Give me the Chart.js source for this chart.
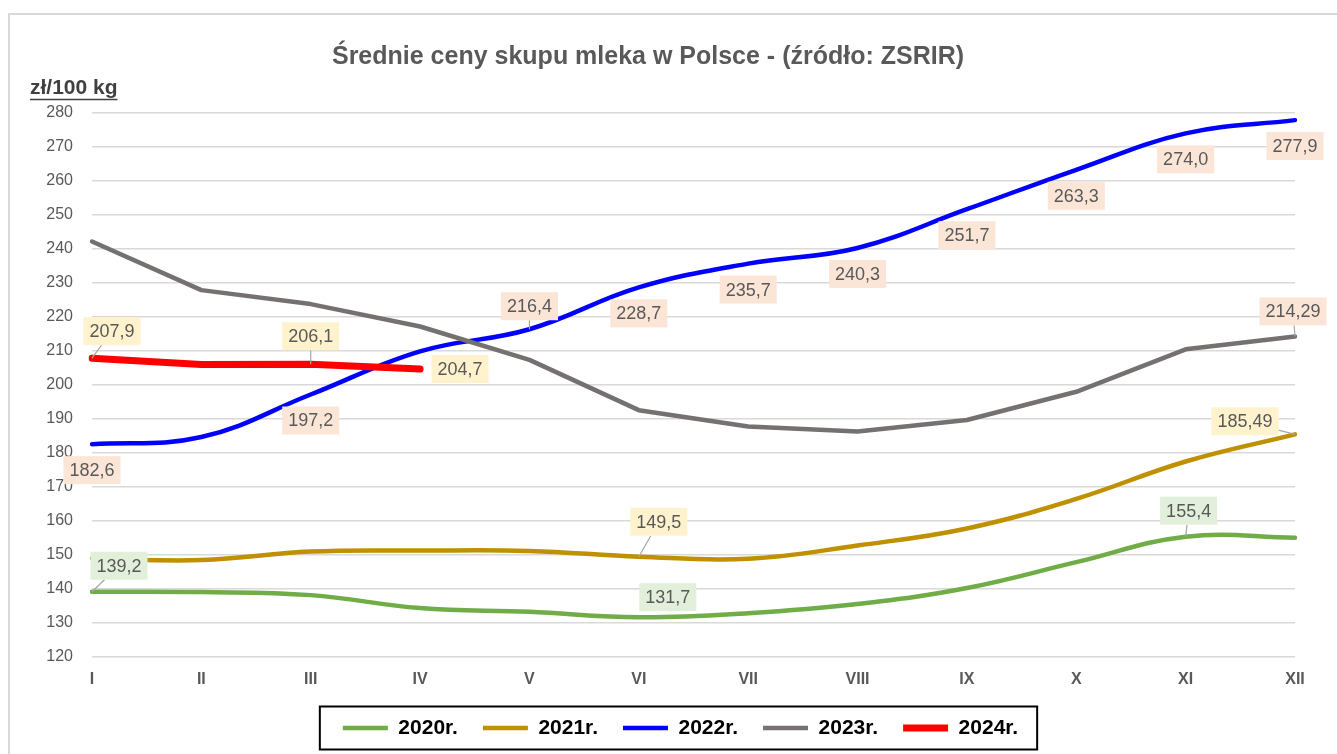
<!DOCTYPE html>
<html>
<head>
<meta charset="utf-8">
<script src="https://cdn.jsdelivr.net/npm/chart.js@4.4.1/dist/chart.umd.min.js"></script>
<style>
  body { margin: 0; background: #fff; }
  canvas { display: block; }
</style>
</head>
<body>
<canvas id="myChart" width="1337" height="754"></canvas>
<script>
// months (x axis)
const months = ["I", "II", "III", "IV", "V", "VI", "VII", "VIII", "IX", "X", "XI", "XII"];

// prices zl/100 kg
const y2020 = [139.2, 139.1, 138.2, 134.4, 133.3, 131.7, 132.9, 135.6, 140.3, 147.9, 155.4, 155.1];
const y2021 = [149.0, 148.5, 151.0, 151.3, 151.2, 149.5, 148.9, 152.8, 157.8, 166.5, 177.5, 185.49];
const y2022 = [182.6, 184.7, 197.2, 209.9, 216.4, 228.7, 235.7, 240.3, 251.7, 263.3, 274.0, 277.9];
const y2023 = [242.2, 227.9, 223.8, 217.2, 207.4, 192.6, 187.8, 186.3, 189.7, 198.0, 210.5, 214.29];
const y2024 = [207.9, 206.0, 206.1, 204.7];

const yTicks = [120, 130, 140, 150, 160, 170, 180, 190, 200, 210, 220, 230, 240, 250, 260, 270, 280];

// which points get a value box, and where the box sits relative to the point
const spots = [
  [{ i: 0, dx: 27, dy: -26, dec: 1, lead: true }, { i: 5, dx: 29, dy: -20, dec: 1 }, { i: 10, dx: 3, dy: -26, dec: 1, lead: true }],
  [{ i: 5, dx: 20, dy: -35, dec: 1, lead: true }, { i: 11, dx: -50, dy: -13, dec: 2, lead: true }],
  [0, 2, 5, 6, 7, 8, 9, 10, 11].map((i) => ({ i: i, dx: 0, dy: 26, dec: 1 }))
    .concat([{ i: 4, dx: 0, dy: -23, dec: 1, lead: true }]),
  [{ i: 11, dx: -2, dy: -25, dec: 2, lead: true }],
  [{ i: 0, dx: 20, dy: -27, dec: 1, lead: true }, { i: 2, dx: 0, dy: -28, dec: 1, lead: true }, { i: 3, dx: 40, dy: 0, dec: 1 }],
];
const boxColors = ["#E2EFDA", "#FFF2CC", "#FBE5D6", "#FBE5D6", "#FFF2CC"];

const FONT = '"Liberation Sans", Arial, sans-serif';
const PLOT_BOTTOM = 657;
const LEGEND_TOP = 692.5;

const valueBoxes = {
  id: "valueBoxes",
  afterDatasetsDraw(chart) {
    const ctx = chart.ctx;
    ctx.save();
    ctx.font = "18px " + FONT;
    ctx.textAlign = "center";
    ctx.textBaseline = "middle";
    chart.data.datasets.forEach((ds, di) => {
      const meta = chart.getDatasetMeta(di);
      spots[di].forEach((s) => {
        const pt = meta.data[s.i];
        const txt = ds.data[s.i].toFixed(s.dec).replace(".", ",");
        const w = ctx.measureText(txt).width + 12;
        const h = 28;
        const cx = pt.x + s.dx;
        const cy = pt.y + s.dy;
        if (s.lead) {
          const ddx = pt.x - cx, ddy = pt.y - cy;
          const t = Math.min(ddx ? (w / 2) / Math.abs(ddx) : 99, ddy ? (h / 2) / Math.abs(ddy) : 99);
          ctx.strokeStyle = "#a6a6a6";
          ctx.lineWidth = 1.2;
          ctx.beginPath();
          ctx.moveTo(cx + ddx * t, cy + ddy * t);
          ctx.lineTo(pt.x, pt.y);
          ctx.stroke();
        }
        ctx.fillStyle = boxColors[di];
        ctx.fillRect(cx - w / 2, cy - h / 2, w, h);
        ctx.fillStyle = "#595959";
        ctx.fillText(txt, cx, cy + 1);
      });
    });
    ctx.restore();
  },
};

const frame = {
  id: "frame",
  afterLayout(chart) {
    // move the legend a bit right and up, like in the original
    const lg = chart.legend;
    const h = lg.height;
    lg.left += 33;
    lg.right += 33;
    lg.top = LEGEND_TOP;
    lg.bottom = LEGEND_TOP + h;
  },
  beforeDraw(chart) {
    const ctx = chart.ctx;
    ctx.save();
    ctx.fillStyle = "#fff";
    ctx.fillRect(0, 0, chart.width, chart.height);
    ctx.strokeStyle = "#d9d9d9";
    ctx.lineWidth = 2;
    ctx.strokeRect(9, 14, chart.width + 20, chart.height + 20);
    ctx.restore();
  },
  afterDraw(chart) {
    const ctx = chart.ctx;
    ctx.save();
    // title
    ctx.font = "bold 25px " + FONT;
    ctx.fillStyle = "#595959";
    ctx.textAlign = "center";
    ctx.textBaseline = "middle";
    ctx.fillText("Średnie ceny skupu mleka w Polsce - (źródło: ZSRIR)", 648, 57);
    // unit
    ctx.font = "bold 21px " + FONT;
    ctx.fillStyle = "#404040";
    ctx.textAlign = "left";
    const unit = "zł/100 kg";
    ctx.fillText(unit, 30, 88);
    const uw = ctx.measureText(unit).width;
    ctx.strokeStyle = "#404040";
    ctx.lineWidth = 1.5;
    ctx.beginPath();
    ctx.moveTo(30, 99.5);
    ctx.lineTo(30 + uw, 99.5);
    ctx.stroke();
    // legend border
    const boxes = chart.legend.legendHitBoxes;
    if (boxes && boxes.length) {
      const first = boxes[0], last = boxes[boxes.length - 1];
      ctx.strokeStyle = "#000";
      ctx.lineWidth = 2;
      ctx.strokeRect(first.left - 23, first.top - 11, last.left + last.width + 19 - (first.left - 23), first.height + 22);
    }
    ctx.restore();
  },
};

const line = (label, data, color, width, tension, order) => ({
  label: label,
  data: data,
  borderColor: color,
  backgroundColor: color,
  borderWidth: width,
  tension: tension,
  order: order,
  pointRadius: 0,
  pointHoverRadius: 0,
  borderCapStyle: "round",
  borderJoinStyle: "round",
  fill: false,
});

const ctx = document.getElementById("myChart").getContext("2d");
new Chart(ctx, {
  type: "line",
  data: {
    labels: months,
    datasets: [
      line("2020r.", y2020, "#70AD47", 4.5, 0.4, 5),
      line("2021r.", y2021, "#BF9000", 4.5, 0.4, 4),
      line("2022r.", y2022, "#0000FF", 4.5, 0.4, 3),
      line("2023r.", y2023, "#767171", 4.5, 0, 2),
      line("2024r.", y2024, "#FF0000", 7, 0, 1),
    ],
  },
  options: {
    responsive: false,
    animation: false,
    events: [],
    layout: { padding: { top: 113, left: 0, right: 42, bottom: 0 } },
    scales: {
      x: {
        offset: false,
        grid: { display: false, drawTicks: false },
        border: { display: false },
        ticks: { color: "#595959", font: { family: FONT, size: 16, weight: "bold" }, padding: 13, maxRotation: 0, autoSkip: false },
        afterFit: (scale) => {
          scale.height = scale.chart.height - scale.chart.legend.height - PLOT_BOTTOM;
        },
      },
      y: {
        min: 120,
        max: 280,
        afterBuildTicks: (scale) => { scale.ticks = yTicks.map((v) => ({ value: v })); },
        grid: { color: "#d9d9d9", lineWidth: 1.5, drawTicks: false },
        border: { display: false },
        ticks: { color: "#595959", font: { family: FONT, size: 16 }, padding: 19 },
        afterFit: (scale) => { scale.width = 92; },
      },
    },
    plugins: {
      tooltip: { enabled: false },
      legend: {
        position: "bottom",
        labels: {
          usePointStyle: true,
          pointStyle: "line",
          pointStyleWidth: 45,
          boxWidth: 45,
          padding: 25,
          color: "#000",
          font: { family: FONT, size: 21, weight: "bold" },
          sort: (a, b) => a.datasetIndex - b.datasetIndex,
        },
      },
    },
  },
  plugins: [frame, valueBoxes],
});
</script>
</body>
</html>
